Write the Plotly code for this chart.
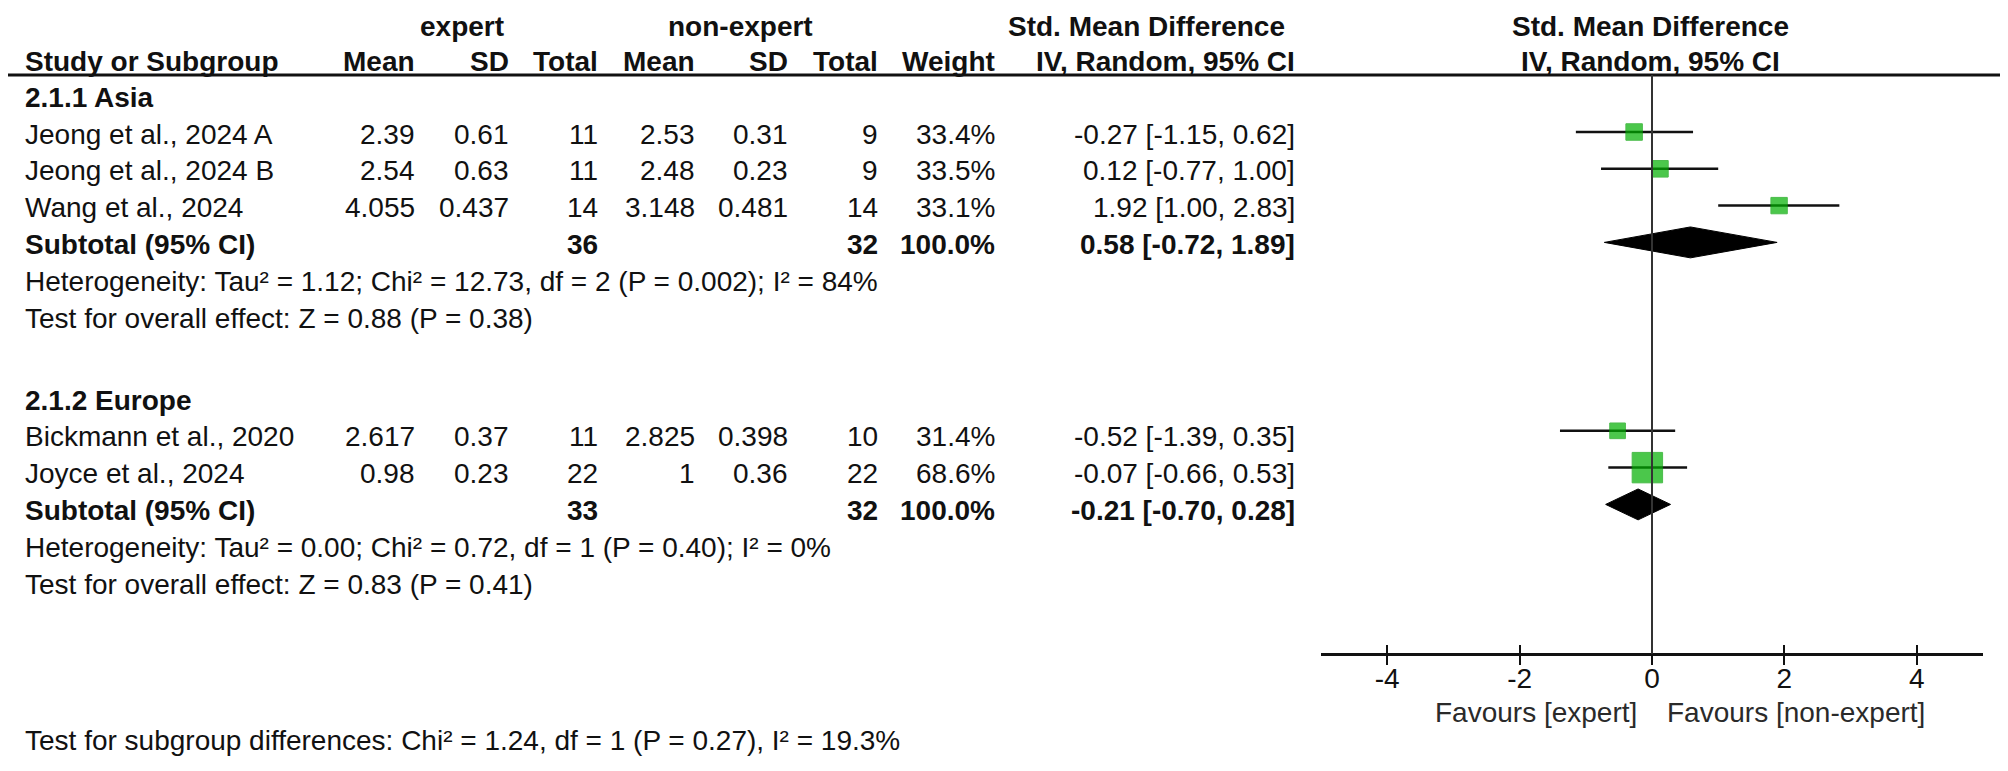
import plotly.graph_objects as go

# ---------------- data ----------------
group_names = ["2.1.1 Asia", "2.1.2 Europe"]
group_of_study = [0, 0, 0, 1, 1]
studies = ["Jeong et al., 2024 A", "Jeong et al., 2024 B", "Wang et al., 2024",
           "Bickmann et al., 2020", "Joyce et al., 2024"]
exp_mean = [2.39, 2.54, 4.055, 2.617, 0.98]
exp_sd = [0.61, 0.63, 0.437, 0.37, 0.23]
exp_n = [11, 11, 14, 11, 22]
ne_mean = [2.53, 2.48, 3.148, 2.825, 1]
ne_sd = [0.31, 0.23, 0.481, 0.398, 0.36]
ne_n = [9, 9, 14, 10, 22]
weight = [33.4, 33.5, 33.1, 31.4, 68.6]
smd = [-0.27, 0.12, 1.92, -0.52, -0.07]
ci_lo = [-1.15, -0.77, 1.00, -1.39, -0.66]
ci_hi = [0.62, 1.00, 2.83, 0.35, 0.53]

sub_exp_n = [36, 33]
sub_ne_n = [32, 32]
sub_weight = [100.0, 100.0]
sub_smd = [0.58, -0.21]
sub_lo = [-0.72, -0.70]
sub_hi = [1.89, 0.28]
het_text = ["Heterogeneity: Tau² = 1.12; Chi² = 12.73, df = 2 (P = 0.002); I² = 84%",
            "Heterogeneity: Tau² = 0.00; Chi² = 0.72, df = 1 (P = 0.40); I² = 0%"]
overall_text = ["Test for overall effect: Z = 0.88 (P = 0.38)",
                "Test for overall effect: Z = 0.83 (P = 0.41)"]
subgroup_text = "Test for subgroup differences: Chi² = 1.24, df = 1 (P = 0.27), I² = 19.3%"
tick_vals = [-4, -2, 0, 2, 4]
tick_text = ["-4", "-2", "0", "2", "4"]
axis_range = [-5, 5]
favours_left = "Favours [expert]"
favours_right = "Favours [non-expert]"

# ---------------- layout constants ----------------
OFF = 8               # default page body margin
W, H = 1992, 755      # figure size (page is 2008x771)
ROW = 36.8            # px per row
TOP = 95.2 - OFF      # figure pixel of marker row 0
TEXT_SHIFT = -3       # default text offset relative to marker rows
GROUP_TEXT_SHIFT = [-2, -6]
FONT = "Liberation Sans, Arial, sans-serif"
FS = 28
TXT = "#111111"
GROUP_START = [0, 8.12]

def px(x):
    # x given in page pixels
    return (x - OFF) / W

study_rows, group_rows, sub_rows, het_rows, ov_rows = [], [], [], [], []
for gi in range(len(group_names)):
    r = GROUP_START[gi]
    group_rows.append(r); r += 1
    for i, gg in enumerate(group_of_study):
        if gg == gi:
            study_rows.append(r); r += 1
    sub_rows.append(r); r += 1
    het_rows.append(r); r += 1
    ov_rows.append(r)
axis_row = ov_rows[-1] + 2.06
favours_row = axis_row + 1.5
subgroup_row = axis_row + 2.28
header_line_row = -0.55
header_rows = [-1.94, -1.01]

col_right = {"emean": 417, "esd": 511, "en": 600, "nmean": 697, "nsd": 790,
             "nn": 880, "w": 997, "ci": 1297}
STUDY_X = 23

fig = go.Figure()
ann = []

def add_text(x_px, row, text, anchor="right", bold=False, color=TXT, size=FS, shift=TEXT_SHIFT):
    ann.append(dict(x=px(x_px), xref="paper", y=row, yref="y", yshift=shift,
                    text=("<b>%s</b>" % text) if bold else text, showarrow=False,
                    xanchor=anchor, yanchor="middle",
                    font=dict(family=FONT, size=size, color=color)))

def g(v):
    return f"{v:g}"

# headers
h1, h2 = header_rows
add_text(462, h1, "expert", "center", True)
add_text(740, h1, "non-expert", "center", True)
add_text(1146, h1, "Std. Mean Difference", "center", True)
add_text(1650, h1, "Std. Mean Difference", "center", True)
add_text(STUDY_X, h2, "Study or Subgroup", "left", True)
for key, lab in [("emean", "Mean"), ("esd", "SD"), ("en", "Total"), ("nmean", "Mean"),
                 ("nsd", "SD"), ("nn", "Total"), ("w", "Weight"), ("ci", "IV, Random, 95% CI")]:
    add_text(col_right[key], h2, lab, "right", True)
add_text(1650, h2, "IV, Random, 95% CI", "center", True)

for gi, gname in enumerate(group_names):
    s = GROUP_TEXT_SHIFT[gi]
    add_text(STUDY_X, group_rows[gi], gname, "left", True, shift=s)
    sr = sub_rows[gi]
    add_text(STUDY_X, sr, "Subtotal (95% CI)", "left", True, shift=s)
    add_text(col_right["en"], sr, str(sub_exp_n[gi]), "right", True, shift=s)
    add_text(col_right["nn"], sr, str(sub_ne_n[gi]), "right", True, shift=s)
    add_text(col_right["w"], sr, f"{sub_weight[gi]:.1f}%", "right", True, shift=s)
    add_text(col_right["ci"], sr, f"{sub_smd[gi]:.2f} [{sub_lo[gi]:.2f}, {sub_hi[gi]:.2f}]",
             "right", True, shift=s)
    add_text(STUDY_X, het_rows[gi], het_text[gi], "left", shift=s)
    add_text(STUDY_X, ov_rows[gi], overall_text[gi], "left", shift=s)

for i, name in enumerate(studies):
    rr = study_rows[i]
    s = GROUP_TEXT_SHIFT[group_of_study[i]]
    add_text(STUDY_X, rr, name, "left", shift=s)
    add_text(col_right["emean"], rr, g(exp_mean[i]), shift=s)
    add_text(col_right["esd"], rr, g(exp_sd[i]), shift=s)
    add_text(col_right["en"], rr, str(exp_n[i]), shift=s)
    add_text(col_right["nmean"], rr, g(ne_mean[i]), shift=s)
    add_text(col_right["nsd"], rr, g(ne_sd[i]), shift=s)
    add_text(col_right["nn"], rr, str(ne_n[i]), shift=s)
    add_text(col_right["w"], rr, f"{weight[i]:.1f}%", shift=s)
    add_text(col_right["ci"], rr, f"{smd[i]:.2f} [{ci_lo[i]:.2f}, {ci_hi[i]:.2f}]", shift=s)

add_text(STUDY_X, subgroup_row, subgroup_text, "left")
add_text(1639, favours_row, favours_left, "right", color="#2a2a2a")
add_text(1665, favours_row, favours_right, "left", color="#2a2a2a")

# CI lines
cx, cy = [], []
for i in range(len(studies)):
    cx += [ci_lo[i], ci_hi[i], None]
    cy += [study_rows[i], study_rows[i], None]
fig.add_trace(go.Scatter(x=cx, y=cy, mode="lines", line=dict(color="#111111", width=2.5),
                         hoverinfo="skip"))
# squares sized by weight
sizes = [16.5 * (w / 33.4) ** 0.85 for w in weight]
fig.add_trace(go.Scatter(x=smd, y=study_rows, mode="markers",
                         marker=dict(symbol="square", size=sizes, color="#00B000",
                                     line=dict(color="#00A000", width=1)),
                         hoverinfo="skip"))
# diamonds
HALF = 0.42
for gi in range(len(group_names)):
    rr = sub_rows[gi]
    fig.add_trace(go.Scatter(x=[sub_lo[gi], sub_smd[gi], sub_hi[gi], sub_smd[gi], sub_lo[gi]],
                             y=[rr, rr - HALF, rr, rr + HALF, rr],
                             mode="lines", fill="toself", fillcolor="#000000",
                             line=dict(color="#000000", width=1), hoverinfo="skip"))
# dummy trace for the inside-tick axis
fig.add_trace(go.Scatter(x=[0], y=[axis_row], xaxis="x2", mode="markers",
                         marker=dict(opacity=0), hoverinfo="skip"))

shapes = [
    dict(type="line", xref="paper", yref="y", x0=0, x1=1, y0=header_line_row, y1=header_line_row,
         line=dict(color="#111111", width=3)),
    dict(type="line", xref="x", yref="y", x0=0, x1=0, y0=header_line_row, y1=axis_row,
         line=dict(color="#333333", width=2)),
]

y_top = -TOP / ROW
y_bot = (H - TOP) / ROW
axis_pos = 1 - (TOP + axis_row * ROW) / H
dom = [px(1321), px(1983)]

fig.update_layout(
    width=W, height=H, margin=dict(l=0, r=0, t=0, b=0),
    paper_bgcolor="white", plot_bgcolor="white", showlegend=False,
    annotations=ann, shapes=shapes,
    xaxis=dict(domain=dom, range=axis_range, anchor="free", position=axis_pos,
               showline=True, linecolor="#111111", linewidth=3, showgrid=False, zeroline=False,
               ticks="outside", ticklen=9, tickwidth=2, tickcolor="#111111",
               tickvals=tick_vals, ticktext=tick_text, ticklabelstandoff=-10,
               tickfont=dict(family=FONT, size=FS, color=TXT)),
    xaxis2=dict(overlaying="x", range=axis_range, anchor="free", position=axis_pos,
                showline=False, showgrid=False, zeroline=False,
                ticks="inside", ticklen=9, tickwidth=2, tickcolor="#111111",
                tickvals=tick_vals, showticklabels=False),
    yaxis=dict(domain=[0, 1], range=[y_bot, y_top], visible=False, showgrid=False, zeroline=False),
)

fig.write_html("out.html")
